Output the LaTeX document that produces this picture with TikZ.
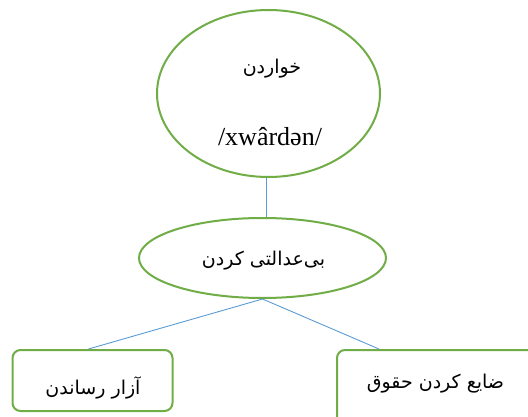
\documentclass[tikz,border=0pt]{standalone}
\usepackage{fontspec}
\setmainfont{Liberation Serif}
\newfontfamily\farsi[Script=Arabic]{DejaVu Sans}
\TeXXeTstate=1
\usetikzlibrary{shapes.geometric}
\definecolor{leafgreen}{RGB}{112,173,71}
\definecolor{linkblue}{RGB}{91,155,213}
\tikzset{
  oval/.style={ellipse, draw=leafgreen, line width=2pt, fill=white, inner sep=0pt},
  termbox/.style={rectangle, rounded corners=8pt, draw=leafgreen, line width=2pt, fill=white, inner sep=0pt},
  fa/.style={font=\farsi\fontsize{19}{22}\selectfont, inner sep=0pt},
  link/.style={draw=linkblue, line width=0.9pt}
}
\begin{document}
\begin{tikzpicture}[x=1pt,y=1pt]
\useasboundingbox (0,0) rectangle (528,416);
\clip (0,0) rectangle (528,416);
% centres of the shapes
\coordinate (topc) at (268.5,322.5);
\coordinate (midc) at (262.5,158);
\coordinate (leftc) at (92.5,35.5);
\coordinate (rightc) at (450,21);
% shapes
\node[oval, minimum width=223pt, minimum height=167pt] (word) at (topc) {};
\node[oval, minimum width=247pt, minimum height=80pt] (sense) at (midc) {};
\node[termbox, minimum width=160pt, minimum height=61pt] (harm) at (leftc) {};
\node[termbox, minimum width=226pt, minimum height=90pt] (rights) at (rightc) {};
\coordinate (rightend) at ([xshift=43pt]rights.north west);
\coordinate (leftend) at ([xshift=-4pt]harm.north);
\coordinate (stemtop) at ([xshift=-2pt]word.south);
% texts
\node[fa] (wordfa) at (272,347) {\beginR خواردن\endR};
\node[font=\fontsize{26}{28}\selectfont, inner sep=0pt, anchor=base] (wordipa) at (270,271) {/xwârdən/};
\node[fa] (sensefa) at (263.5,155) {\beginR بی‌عدالتی کردن\endR};
\node[fa] (harmfa) at (93,28) {\beginR آزار رساندن\endR};
\node[fa] (rightsfa) at (435.5,32) {\beginR ضایع کردن حقوق\endR};
% links
\draw[link, line width=1.3pt] (stemtop) -- (stemtop |- sense.north);
\draw[link] (sense.south) -- (leftend);
\draw[link] (sense.south) -- (rightend);
\end{tikzpicture}
\end{document}
